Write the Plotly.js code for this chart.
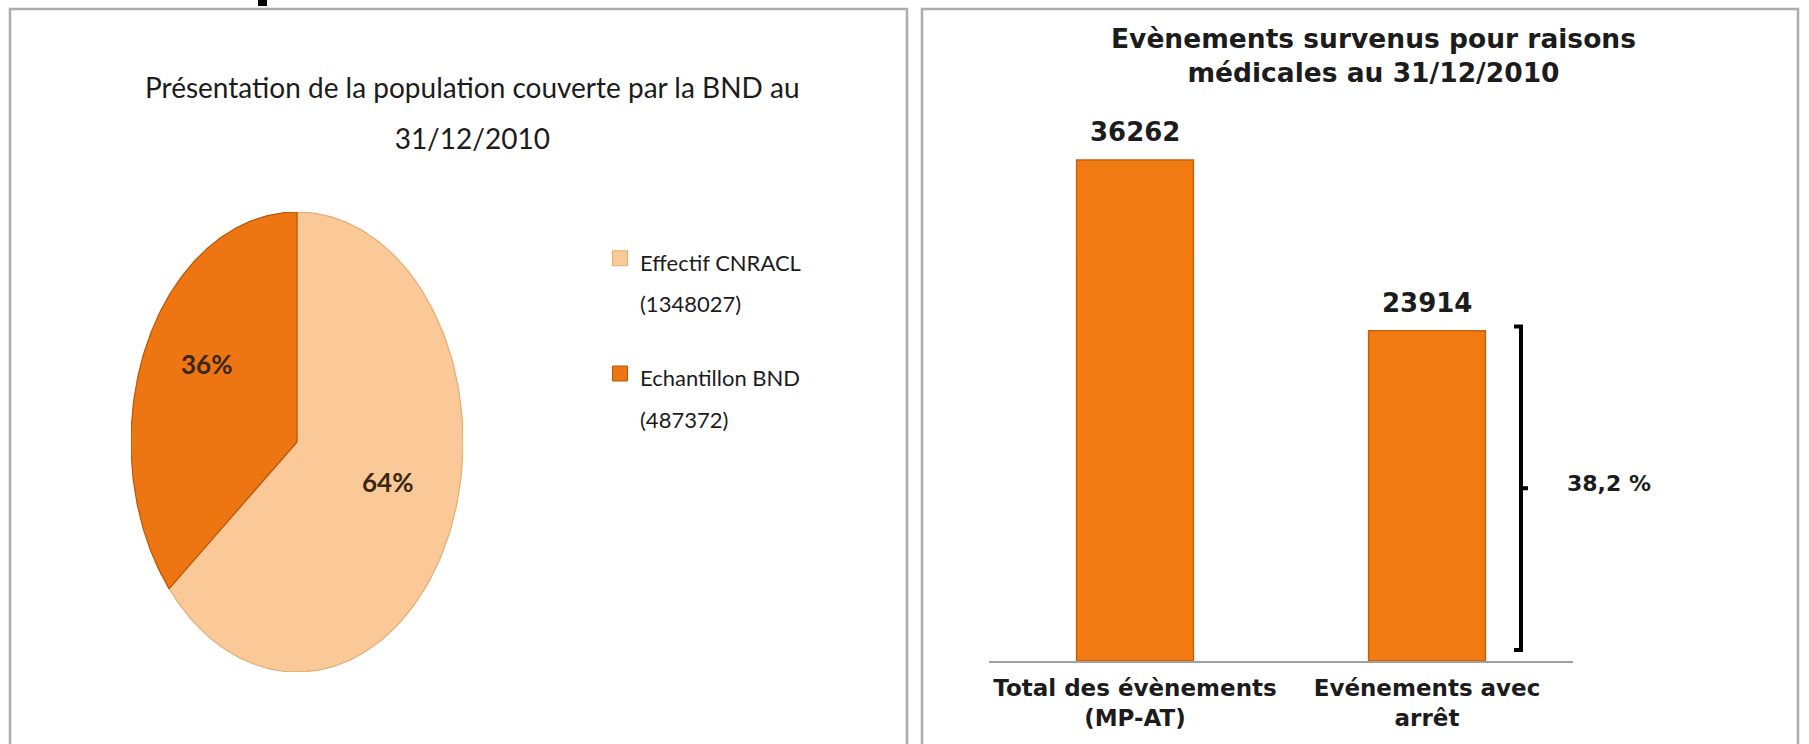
<!DOCTYPE html>
<html><head><meta charset="utf-8">
<script src="https://cdn.plot.ly/plotly-3.0.1.min.js"></script>
<style>html,body{margin:0;padding:0;background:#fff;} #chart{width:1809px;height:744px;}</style>
</head><body><div id="chart"></div>
<script>
// ---- data ----
const pieTitleLines = ["Présentation de la population couverte par la BND au", "31/12/2010"];
const pieNames = ["Effectif CNRACL", "Echantillon BND"];
const pieCounts = [1348027, 487372];
const piePercents = [64, 36];
const pieColors = ["#fbc997", "#ed7613"];
const pieEdgeColors = ["#e3ac74", "#b85608"];

const barTitleLines = ["Evènements survenus pour raisons", "médicales au 31/12/2010"];
const barCategories = ["Total des évènements<br>(MP-AT)", "Evénements avec<br>arrêt"];
const barValues = [36262, 23914];
const braceLabel = "38,2 %";

// ---- helpers ----
const W = 1809, H = 744;
const px = v => v / W;
const py = v => 1 - v / H;
const HUMAN = "Lato, 'Open Sans', sans-serif";
const WIDE = "'DejaVu Sans', Verdana, sans-serif";
const sized = (s, size) => `<span style="font-size:${size}px">${s}</span>`;

const total = piePercents.reduce((a, b) => a + b, 0);
const traces = [];
const annotations = [];
let acc = 0;
piePercents.forEach((p, i) => {
  const start = acc / total, end = (acc + p) / total;
  acc += p;
  const xs = [0], ys = [0];
  const n = 160;
  for (let j = 0; j <= n; j++) {
    const t = 2 * Math.PI * (start + (end - start) * j / n);
    xs.push(Math.sin(t)); ys.push(Math.cos(t));
  }
  xs.push(0); ys.push(0);
  traces.push({
    type: 'scatter', mode: 'lines', x: xs, y: ys, xaxis: 'x2', yaxis: 'y2',
    fill: 'toself', fillcolor: pieColors[i],
    line: {color: pieEdgeColors[i], width: 1.2},
    showlegend: false, hoverinfo: 'skip'
  });
  const mid = 2 * Math.PI * (start + end) / 2;
  annotations.push({
    xref: 'x2', yref: 'y2', x: 0.6 * Math.sin(mid), y: 0.6 * Math.cos(mid), yshift: 19,
    text: p + '%', showarrow: false,
    font: {family: HUMAN, size: 26, color: '#3a2716', weight: 'bold'}
  });
});
// legend entries for the pie
pieNames.forEach((nm, i) => {
  traces.push({
    type: 'scatter', mode: 'markers', x: [null], y: [null], xaxis: 'x2', yaxis: 'y2',
    name: sized(nm, 22) + '<br>' + sized('(' + pieCounts[i] + ')', 22), legendgroup: 'g' + i,
    marker: {symbol: 'square', size: 15, color: pieColors[i], line: {color: pieEdgeColors[i], width: 1}},
    hoverinfo: 'skip'
  });
});

// bars
traces.push({
  type: 'bar', x: barCategories, y: barValues, xaxis: 'x', yaxis: 'y',
  marker: {color: '#f17a12', line: {color: '#c9600a', width: 1.5}},
  showlegend: false, hoverinfo: 'skip'
});
barValues.forEach((v, i) => {
  annotations.push({
    xref: 'x', yref: 'y', x: barCategories[i], y: v, yanchor: 'bottom', yshift: 11,
    text: String(v), showarrow: false,
    font: {family: WIDE, size: 26, color: '#1c1c1c', weight: 'bold'}
  });
});

// titles
annotations.push({
  xref: 'paper', yref: 'paper', x: px(473), y: py(113), xanchor: 'center', yanchor: 'middle',
  text: pieTitleLines.map(s => sized(s, 28)).join('<br>'), showarrow: false,
  font: {family: HUMAN, size: 39, color: '#1c1c1c'}
});
annotations.push({
  xref: 'paper', yref: 'paper', x: px(1373), y: py(55), xanchor: 'center', yanchor: 'middle',
  text: barTitleLines.join('<br>'), showarrow: false,
  font: {family: WIDE, size: 26.5, color: '#1c1c1c', weight: 'bold'}
});
// brace label
annotations.push({
  xref: 'paper', yref: 'y', x: px(1565), y: barValues[1] / 2, xanchor: 'left', yanchor: 'middle', yshift: 12,
  text: braceLabel, showarrow: false,
  font: {family: WIDE, size: 22, color: '#1c1c1c', weight: 'bold'}
});

// brace shape (y in data units of the second bar)
const yTop = barValues[1] + 300, yBot = 800, yMid = (yTop + yBot) / 2;
const xC = px(1521), xL = px(1514), xR = px(1528);
const shapes = [
  {type: 'rect', xref: 'paper', yref: 'paper', x0: px(10), x1: px(907), y0: py(9), y1: py(780),
   line: {color: '#acacac', width: 2.5}},
  {type: 'rect', xref: 'paper', yref: 'paper', x0: px(922), x1: px(1798), y0: py(9), y1: py(780),
   line: {color: '#acacac', width: 2.5}},
  {type: 'rect', xref: 'paper', yref: 'paper', x0: px(258), x1: px(267), y0: py(0), y1: py(6),
   fillcolor: '#000', line: {width: 0}},
  {type: 'path', xref: 'paper', yref: 'y',
   path: `M ${xL},${yTop} L ${xC},${yTop} L ${xC},${yBot} L ${xL},${yBot} M ${xC},${yMid} L ${xR},${yMid}`,
   line: {color: '#000', width: 4}}
];

const layout = {
  width: W, height: H, margin: {l: 0, r: 0, t: 0, b: 0},
  paper_bgcolor: '#ffffff', plot_bgcolor: 'rgba(0,0,0,0)',
  showlegend: true, bargap: 0.6,
  legend: {x: px(600), y: py(231), xanchor: 'left', yanchor: 'top', valign: 'top',
           font: {family: HUMAN, size: 32, color: '#1c1c1c'}, tracegroupgap: 29,
           bgcolor: 'rgba(0,0,0,0)', itemwidth: 30},
  xaxis: {domain: [px(989), px(1573)], range: [-0.5, 1.5], anchor: 'y',
          showline: true, linecolor: '#a0a0a0', linewidth: 1.5, ticks: '',
          showgrid: false, zeroline: false, fixedrange: true, ticklabelstandoff: 6,
          tickfont: {family: WIDE, size: 23, color: '#1c1c1c', weight: 'bold'}},
  yaxis: {domain: [py(661), py(108.4)], range: [0, 40000], anchor: 'x', visible: false,
          showgrid: false, zeroline: false, fixedrange: true},
  xaxis2: {domain: [px(131), px(463)], range: [-1, 1], anchor: 'y2', visible: false, fixedrange: true},
  yaxis2: {domain: [py(672), py(212)], range: [-1, 1], anchor: 'x2', visible: false, fixedrange: true},
  annotations: annotations,
  shapes: shapes
};

Plotly.newPlot('chart', traces, layout, {staticPlot: true, displayModeBar: false});
</script>
</body></html>
